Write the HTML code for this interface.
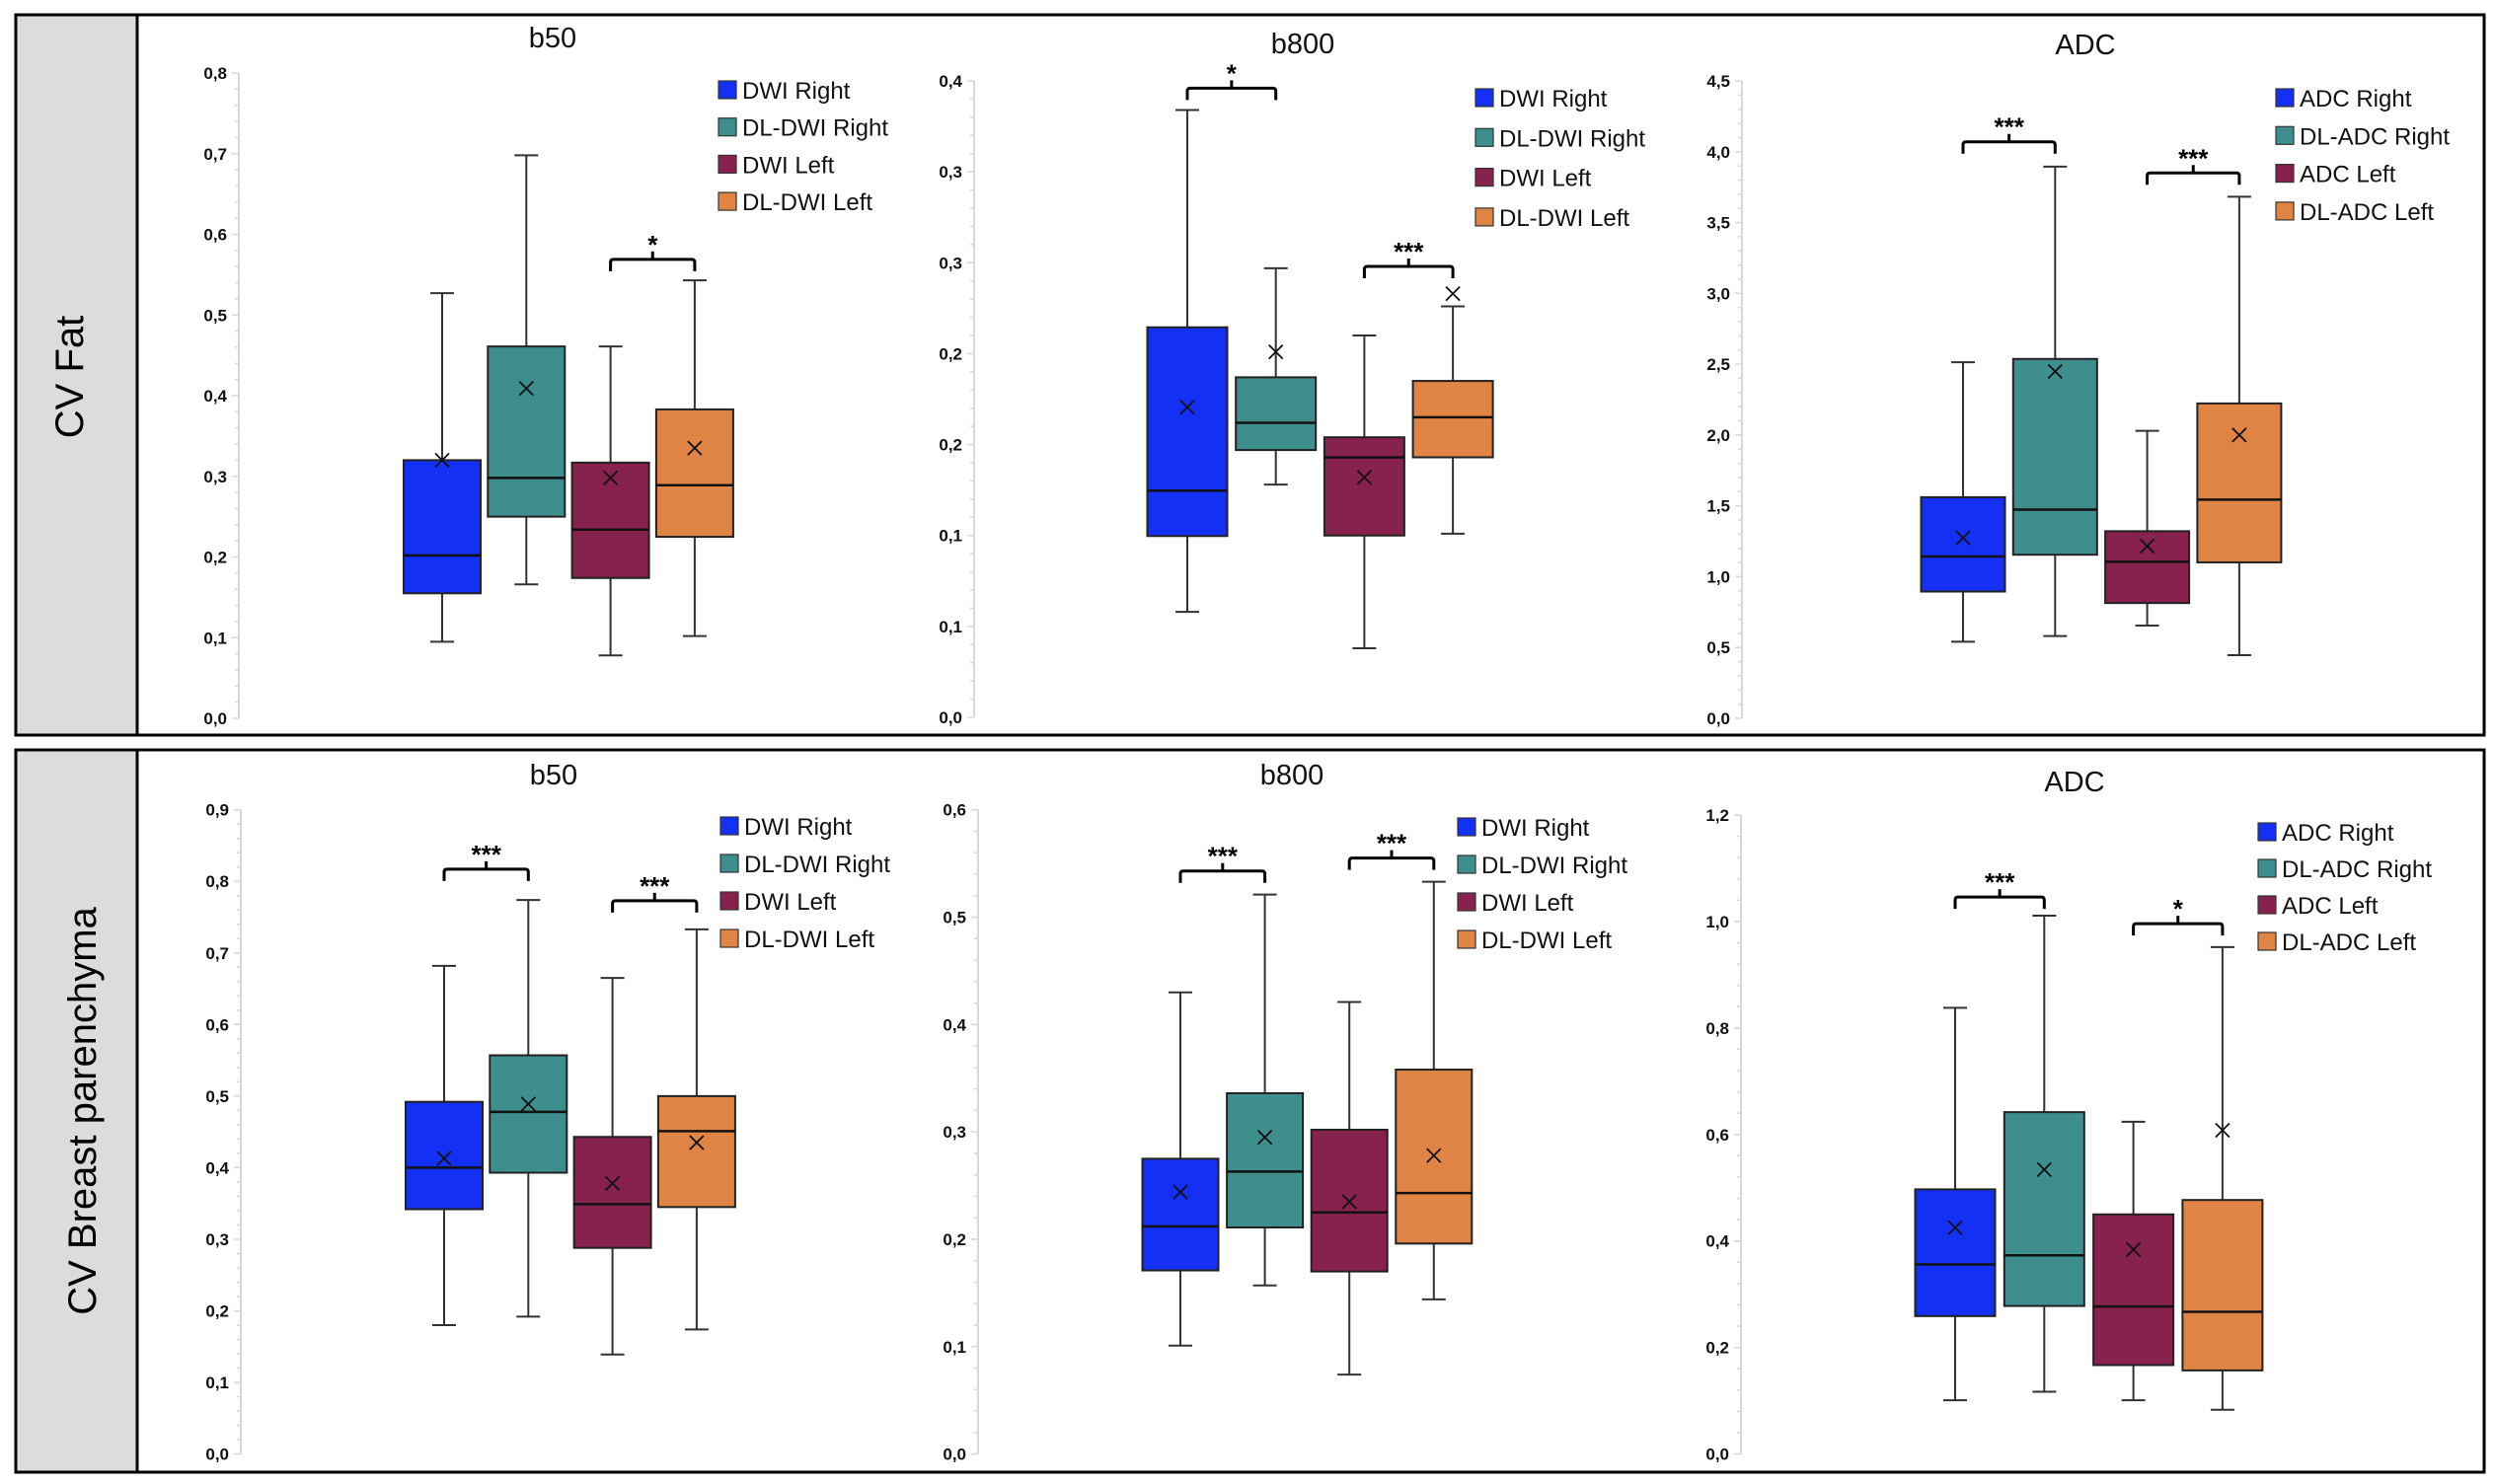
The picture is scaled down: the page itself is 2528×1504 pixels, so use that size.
<!DOCTYPE html>
<html><head><meta charset="utf-8">
<style>
html,body{margin:0;padding:0;background:#fff;}
svg{display:block;}
text{font-family:"Liberation Sans",sans-serif;}
.tick{font-family:"Liberation Sans Narrow","Liberation Sans",sans-serif;font-weight:bold;font-size:17px;fill:#111;}
</style></head>
<body>
<svg id="fig" width="2528" height="1504" viewBox="0 0 2528 1504" xmlns="http://www.w3.org/2000/svg">
<rect x="0" y="0" width="2528" height="1504" fill="#fff"/>
<g>
<rect x="16" y="15" width="2501" height="730" fill="none" stroke="#000" stroke-width="3"/>
<rect x="17.5" y="16.5" width="122" height="727" fill="#dcdcdc" stroke="none"/>
<line x1="139" y1="15" x2="139" y2="745" stroke="#000" stroke-width="3"/>
<text x="0" y="0" font-size="40" text-anchor="middle" transform="translate(84,382) rotate(-90)">CV Fat</text>
</g>
<g>
<rect x="16" y="760" width="2501" height="732" fill="none" stroke="#000" stroke-width="3"/>
<rect x="17.5" y="761.5" width="122" height="729" fill="#dcdcdc" stroke="none"/>
<line x1="139" y1="760" x2="139" y2="1492" stroke="#000" stroke-width="3"/>
<text x="0" y="0" font-size="40" text-anchor="middle" transform="translate(97,1126) rotate(-90)">CV Breast parenchyma</text>
</g>
<g id="charts"></g>
</svg>
<script>
// ---- data ----
const dwiCats = ["DWI Right","DL-DWI Right","DWI Left","DL-DWI Left"];
const adcCats = ["ADC Right","DL-ADC Right","ADC Left","DL-ADC Left"];
const colors = ["#1530f5","#3f8e8e","#87214d","#e08445"];

const fatB50Ticks = ["0,0","0,1","0,2","0,3","0,4","0,5","0,6","0,7","0,8"];
const fatB50Min  = [0.095,0.166,0.078,0.102];
const fatB50Q1   = [0.155,0.250,0.174,0.225];
const fatB50Med  = [0.202,0.298,0.234,0.289];
const fatB50Q3   = [0.320,0.461,0.317,0.383];
const fatB50Max  = [0.527,0.698,0.461,0.543];
const fatB50Mean = [0.320,0.409,0.298,0.335];

const fatB800Ticks = ["0,0","0,1","0,1","0,2","0,2","0,3","0,3","0,4"];
const fatB800Min  = [0.058,0.128,0.038,0.101];
const fatB800Q1   = [0.0997,0.147,0.100,0.143];
const fatB800Med  = [0.1247,0.162,0.143,0.165];
const fatB800Q3   = [0.2145,0.187,0.154,0.185];
const fatB800Max  = [0.334,0.247,0.210,0.226];
const fatB800Mean = [0.1705,0.201,0.132,0.233];

const fatAdcTicks = ["0,0","0,5","1,0","1,5","2,0","2,5","3,0","3,5","4,0","4,5"];
const fatAdcMin  = [0.541,0.581,0.655,0.446];
const fatAdcQ1   = [0.895,1.155,0.814,1.101];
const fatAdcMed  = [1.142,1.473,1.105,1.544];
const fatAdcQ3   = [1.561,2.537,1.321,2.223];
const fatAdcMax  = [2.514,3.895,2.030,3.682];
const fatAdcMean = [1.274,2.449,1.216,2.000];

const brB50Ticks = ["0,0","0,1","0,2","0,3","0,4","0,5","0,6","0,7","0,8","0,9"];
const brB50Min  = [0.180,0.192,0.139,0.174];
const brB50Q1   = [0.342,0.393,0.288,0.345];
const brB50Med  = [0.400,0.478,0.349,0.451];
const brB50Q3   = [0.492,0.557,0.443,0.500];
const brB50Max  = [0.682,0.774,0.665,0.733];
const brB50Mean = [0.413,0.489,0.378,0.435];

const brB800Ticks = ["0,0","0,1","0,2","0,3","0,4","0,5","0,6"];
const brB800Min  = [0.101,0.157,0.074,0.144];
const brB800Q1   = [0.171,0.211,0.170,0.196];
const brB800Med  = [0.212,0.263,0.225,0.243];
const brB800Q3   = [0.275,0.336,0.302,0.358];
const brB800Max  = [0.430,0.521,0.421,0.533];
const brB800Mean = [0.244,0.295,0.235,0.278];

const brAdcTicks = ["0,0","0,2","0,4","0,6","0,8","1,0","1,2"];
const brAdcMin  = [0.101,0.117,0.101,0.083];
const brAdcQ1   = [0.259,0.278,0.167,0.157];
const brAdcMed  = [0.356,0.373,0.277,0.267];
const brAdcQ3   = [0.497,0.642,0.450,0.477];
const brAdcMax  = [0.838,1.011,0.624,0.952];
const brAdcMean = [0.425,0.534,0.384,0.608];

const fatB50Sig  = [[2,3,0.569,"*"]];
const fatB800Sig = [[0,1,0.346,"*"],[2,3,0.248,"***"]];
const fatAdcSig  = [[0,1,4.07,"***"],[2,3,3.85,"***"]];
const brB50Sig   = [[0,1,0.817,"***"],[2,3,0.773,"***"]];
const brB800Sig  = [[0,1,0.543,"***"],[2,3,0.555,"***"]];
const brAdcSig   = [[0,1,1.046,"***"],[2,3,0.996,"*"]];

// ---- layout ----
const charts = [
 {id:"fat-b50",title:"b50",tx:560,ty:48,ax:242,y0:728,y1:74,ymax:0.8,ticks:fatB50Ticks,c0:448,dx:85.3,w:78,
  cats:dwiCats,mn:fatB50Min,q1:fatB50Q1,md:fatB50Med,q3:fatB50Q3,mx:fatB50Max,me:fatB50Mean,sig:fatB50Sig,lx:728,ly:91,ld:37.7},
 {id:"fat-b800",title:"b800",tx:1320,ty:54,ax:987,y0:727,y1:82,ymax:0.35,ticks:fatB800Ticks,c0:1203,dx:89.7,w:81,
  cats:dwiCats,mn:fatB800Min,q1:fatB800Q1,md:fatB800Med,q3:fatB800Q3,mx:fatB800Max,me:fatB800Mean,sig:fatB800Sig,lx:1495,ly:99,ld:40.3},
 {id:"fat-adc",title:"ADC",tx:2113,ty:55,ax:1765,y0:728,y1:82,ymax:4.5,ticks:fatAdcTicks,c0:1989,dx:93.3,w:85,
  cats:adcCats,mn:fatAdcMin,q1:fatAdcQ1,md:fatAdcMed,q3:fatAdcQ3,mx:fatAdcMax,me:fatAdcMean,sig:fatAdcSig,lx:2306,ly:99,ld:38.3},
 {id:"breast-b50",title:"b50",tx:561,ty:795,ax:244,y0:1473.6,y1:820.7,ymax:0.9,ticks:brB50Ticks,c0:450,dx:85.3,w:78,
  cats:dwiCats,mn:brB50Min,q1:brB50Q1,md:brB50Med,q3:brB50Q3,mx:brB50Max,me:brB50Mean,sig:brB50Sig,lx:730,ly:837,ld:38},
 {id:"breast-b800",title:"b800",tx:1309,ty:795,ax:991,y0:1473.6,y1:820.7,ymax:0.6,ticks:brB800Ticks,c0:1196,dx:85.6,w:77,
  cats:dwiCats,mn:brB800Min,q1:brB800Q1,md:brB800Med,q3:brB800Q3,mx:brB800Max,me:brB800Mean,sig:brB800Sig,lx:1477,ly:838,ld:38},
 {id:"breast-adc",title:"ADC",tx:2102,ty:802,ax:1764,y0:1473.6,y1:826,ymax:1.2,ticks:brAdcTicks,c0:1981,dx:90.3,w:81,
  cats:adcCats,mn:brAdcMin,q1:brAdcQ1,md:brAdcMed,q3:brAdcQ3,mx:brAdcMax,me:brAdcMean,sig:brAdcSig,lx:2288,ly:843,ld:37}
];
const NS="http://www.w3.org/2000/svg";
function mk(tag,attrs,parent){const e=document.createElementNS(NS,tag);for(const k in attrs)e.setAttribute(k,attrs[k]);parent.appendChild(e);return e;}
const root=document.getElementById("charts");

charts.forEach(c=>{
  const g=mk("g",{},root);
  
  
  const yS=v=>c.y0-(v/c.ymax)*(c.y0-c.y1);
  const xS=i=>c.c0+i*c.dx;
  // title
  const t=mk("text",{x:c.tx,y:c.ty,"font-size":29,"text-anchor":"middle",fill:"#111"},g);
  t.textContent=c.title;
  
  
  // axis
  const ag=mk("g",{},g);
  
  
  mk("line",{x1:c.ax,y1:c.y1,x2:c.ax,y2:c.y0,stroke:"#d8d8d8","stroke-width":2},ag);
  const n=c.ticks.length-1;
  for(let i=0;i<=n*5;i++){
    const y=c.y0-(i/(n*5))*(c.y0-c.y1);
    const major=i%5===0;
    mk("line",{x1:c.ax-(major?7:4),y1:y,x2:c.ax,y2:y,stroke:"#d8d8d8","stroke-width":1.5},ag);
  }
  c.ticks.forEach((lab,i)=>{
    const y=c.y0-(i/n)*(c.y0-c.y1);
    const tt=mk("text",{x:c.ax-12,y:y+6,"text-anchor":"end",class:"tick"},ag);
    tt.textContent=lab;
    
    
  });
  // boxes
  c.cats.forEach((cat,i)=>{
    const bg=mk("g",{},g);
    
    
    const cx=xS(i),hw=c.w/2,cap=12;
    mk("line",{x1:cx,y1:yS(c.mx[i]),x2:cx,y2:yS(c.q3[i]),stroke:"#333","stroke-width":2},bg);
    mk("line",{x1:cx,y1:yS(c.q1[i]),x2:cx,y2:yS(c.mn[i]),stroke:"#333","stroke-width":2},bg);
    mk("line",{x1:cx-cap,y1:yS(c.mx[i]),x2:cx+cap,y2:yS(c.mx[i]),stroke:"#333","stroke-width":2},bg);
    mk("line",{x1:cx-cap,y1:yS(c.mn[i]),x2:cx+cap,y2:yS(c.mn[i]),stroke:"#333","stroke-width":2},bg);
    mk("rect",{x:cx-hw,y:yS(c.q3[i]),width:c.w,height:yS(c.q1[i])-yS(c.q3[i]),fill:colors[i],stroke:"#222","stroke-width":2},bg);
    mk("line",{x1:cx-hw,y1:yS(c.md[i]),x2:cx+hw,y2:yS(c.md[i]),stroke:"#111","stroke-width":2.5},bg);
    const my=yS(c.me[i]),s=7;
    mk("path",{d:`M${cx-s} ${my-s}L${cx+s} ${my+s}M${cx+s} ${my-s}L${cx-s} ${my+s}`,stroke:"#111","stroke-width":1.8,fill:"none"},bg);
  });
  // significance brackets
  c.sig.forEach(s=>{
    const sg=mk("g",{},g);
    
    
    const xa=xS(s[0]),xb=xS(s[1]),y=yS(s[2]),xm=(xa+xb)/2;
    mk("path",{d:`M${xa} ${y+12}L${xa} ${y+3}Q${xa} ${y} ${xa+3} ${y}L${xb-3} ${y}Q${xb} ${y} ${xb} ${y+3}L${xb} ${y+12}M${xm} ${y}L${xm} ${y-8}`,stroke:"#000","stroke-width":3,fill:"none"},sg);
    const st=mk("text",{x:xm,y:y-6,"text-anchor":"middle","font-size":26,"font-weight":"bold",fill:"#000"},sg);
    st.textContent=s[3];
  });
  // legend
  const lg=mk("g",{},g);
  
  
  c.cats.forEach((cat,i)=>{
    const y=c.ly+i*c.ld;
    const eg=mk("g",{},lg);
    
    
    mk("rect",{x:c.lx,y:y-9,width:18,height:18,fill:colors[i],stroke:"#333","stroke-width":1.2},eg);
    const lt=mk("text",{x:c.lx+24,y:y+9,"font-size":24,fill:"#111"},eg);
    lt.textContent=cat;
  });
});
</script>
</body></html>
